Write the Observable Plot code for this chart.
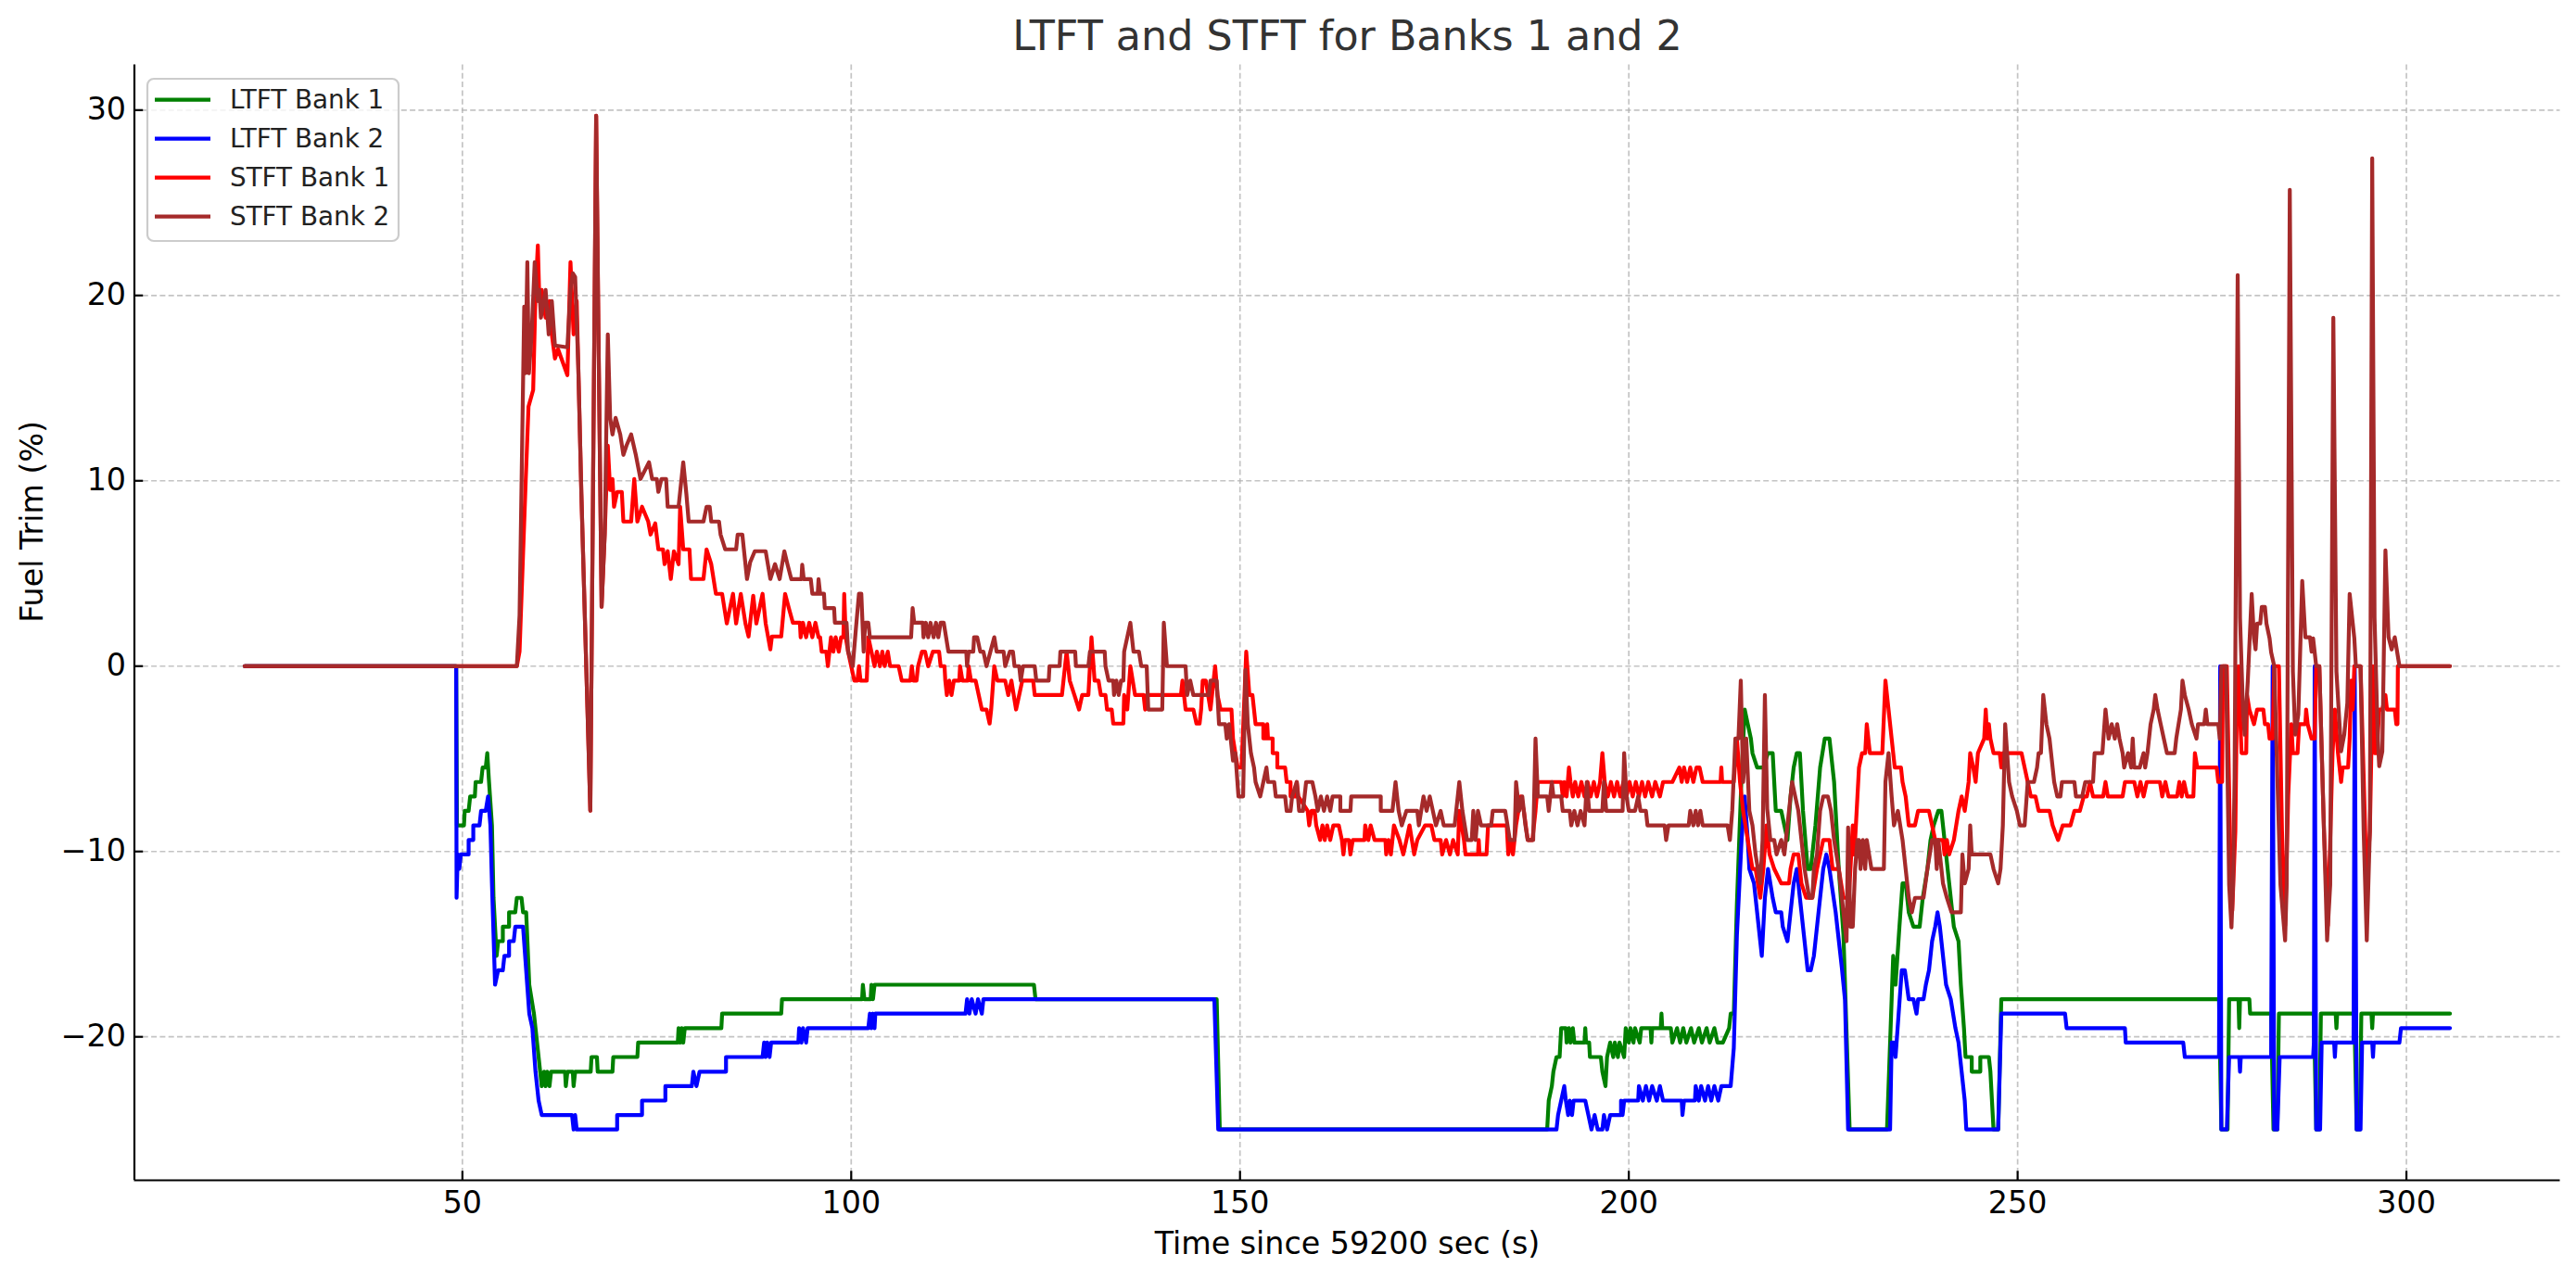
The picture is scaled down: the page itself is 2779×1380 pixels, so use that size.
<!DOCTYPE html>
<html><head><meta charset="utf-8">
<script src="https://cdn.jsdelivr.net/npm/d3@7"></script>
<script src="https://cdn.jsdelivr.net/npm/@observablehq/plot@0.6"></script>
<style>
html,body{margin:0;padding:0;background:#fff;}
#chart{width:2779px;height:1380px;position:relative;overflow:hidden;}
</style></head><body><div id="chart"></div>
<script>
const titleText = "LTFT and STFT for Banks 1 and 2";
const xLabel = "Time since 59200 sec (s)";
const yLabel = "Fuel Trim (%)";
const seriesNames = ["LTFT Bank 1", "LTFT Bank 2", "STFT Bank 1", "STFT Bank 2"];
const seriesColors = ["green", "blue", "red", "brown"];
const xTicks = [50, 100, 150, 200, 250, 300];
const yTicks = [-20, -10, 0, 10, 20, 30];
const xDomain = [7.82, 319.78];
const yDomain = [-27.74, 32.44];

const ltftBank1 = [
[22,0],[49.2,0],[49.3,-8.59],[50.2,-8.59],[50.3,-7.81],[50.8,-7.81],[51.0,-7.03],[51.6,-7.03],[51.7,-6.25],[52.4,-6.25],[52.6,-5.47],[53.0,-5.47],[53.2,-4.69],[53.4,-6.1],[53.8,-8.59],[54.0,-12.5],[54.4,-15.63],[54.6,-14.84],[55.2,-14.84],[55.2,-14.06],[56.0,-14.06],[56.0,-13.28],[56.8,-13.28],[57.0,-12.5],[57.6,-12.5],[57.8,-13.28],[58.2,-13.28],[58.6,-17.19],[59.2,-18.75],[59.8,-21.09],[60.2,-22.66],[60.5,-21.88],[60.7,-22.66],[60.9,-21.88],[61.2,-22.66],[61.4,-21.88],[63.2,-21.88],[63.3,-22.66],[63.5,-21.88],[64.2,-21.88],[64.3,-22.66],[64.5,-21.88],[66.5,-21.88],[66.6,-21.09],[67.3,-21.09],[67.4,-21.88],[69.3,-21.88],[69.4,-21.09],[72.5,-21.09],[72.6,-20.31],[77.7,-20.31],[77.8,-19.53],[78.0,-20.31],[78.2,-19.53],[78.4,-20.31],[78.6,-19.53],[83.3,-19.53],[83.4,-18.75],[91.0,-18.75],[91.1,-17.97],[101.4,-17.97],[101.5,-17.19],[101.7,-17.97],[102.5,-17.97],[102.6,-17.19],[102.8,-17.97],[103.0,-17.19],[123.5,-17.19],[123.7,-17.97],[147.0,-17.97],[147.4,-25],[189.5,-25],[189.7,-23.44],[190.1,-22.66],[190.3,-21.88],[190.7,-21.09],[191.1,-21.09],[191.3,-19.53],[191.9,-19.53],[192.0,-20.31],[192.3,-19.53],[192.5,-20.31],[192.8,-19.53],[193.0,-20.31],[194.3,-20.31],[194.4,-19.53],[194.5,-20.31],[194.9,-20.31],[195.0,-21.09],[196.4,-21.09],[196.6,-21.88],[197.0,-22.66],[197.2,-21.09],[197.6,-20.31],[198.0,-21.09],[198.2,-20.31],[198.6,-21.09],[198.8,-20.31],[199.4,-21.09],[199.6,-19.53],[200.0,-20.31],[200.2,-19.53],[200.6,-20.31],[200.8,-19.53],[201.4,-20.31],[201.6,-19.53],[202.8,-19.53],[202.9,-20.31],[203.0,-19.53],[204.1,-19.53],[204.2,-18.75],[204.3,-19.53],[205.4,-19.53],[205.6,-20.31],[206.2,-19.53],[206.6,-20.31],[207.0,-19.53],[207.4,-20.31],[208.0,-19.53],[208.4,-20.31],[209.0,-19.53],[209.4,-20.31],[210.0,-19.53],[210.4,-20.31],[211.0,-19.53],[211.4,-20.31],[212.1,-20.31],[212.9,-19.53],[213.1,-18.75],[213.5,-18.75],[213.9,-12.8],[214.5,-5.9],[214.9,-2.34],[215.3,-3.13],[215.7,-3.91],[215.9,-4.69],[216.5,-5.47],[217.3,-5.47],[217.9,-4.69],[218.5,-4.69],[218.9,-7.81],[219.6,-7.81],[220.0,-8.59],[220.4,-9.38],[220.8,-7.03],[221.2,-5.47],[221.6,-4.69],[222.0,-4.69],[222.4,-7.81],[223.0,-10.94],[223.4,-10.94],[224.0,-8.59],[224.6,-5.47],[225.2,-3.91],[225.8,-3.91],[226.4,-6.25],[227.0,-10.94],[227.6,-14.5],[228.4,-25],[233.2,-25],[233.8,-17.97],[234.0,-15.63],[234.3,-17.19],[234.8,-14.06],[235.2,-11.72],[235.6,-11.72],[236.0,-13.28],[236.6,-14.06],[237.4,-14.06],[237.8,-12.5],[238.4,-10.94],[238.8,-9.38],[239.2,-8.59],[239.8,-7.81],[240.2,-7.81],[240.6,-9.38],[241.2,-11.72],[241.8,-14.06],[242.4,-14.84],[242.7,-17.19],[243.1,-19.53],[243.3,-21.09],[244.1,-21.09],[244.1,-21.88],[245.2,-21.88],[245.2,-21.09],[246.3,-21.09],[246.5,-21.88],[246.9,-25],[247.5,-25],[247.9,-17.97],[275.9,-17.97],[276.2,-25],[277.0,-25],[277.2,-17.97],[278.4,-17.97],[278.5,-19.53],[278.6,-17.97],[279.8,-17.97],[279.9,-18.75],[282.6,-18.75],[282.9,-25],[283.4,-25],[283.6,-18.75],[288.1,-18.75],[288.4,-25],[288.8,-25],[289.0,-18.75],[290.9,-18.75],[291.0,-19.53],[291.1,-18.75],[293.3,-18.75],[293.6,-25],[294.0,-25],[294.2,-18.75],[295.5,-18.75],[295.6,-19.53],[295.7,-18.75],[305.6,-18.75]
];

const ltftBank2 = [
[22,0],[49.2,0],[49.25,-12.5],[49.4,-10.16],[49.6,-10.94],[49.8,-10.16],[50.8,-10.16],[50.8,-9.38],[51.4,-9.38],[51.4,-8.59],[52.2,-8.59],[52.4,-7.81],[53.0,-7.81],[53.3,-7.03],[53.6,-8.59],[53.8,-11.72],[54.2,-17.19],[54.6,-16.41],[55.2,-16.41],[55.4,-15.63],[56.0,-15.63],[56.0,-14.84],[56.6,-14.84],[56.8,-14.06],[57.8,-14.06],[58.2,-16.41],[58.6,-18.75],[59.0,-19.53],[59.4,-21.88],[59.8,-23.44],[60.2,-24.22],[64.1,-24.22],[64.3,-25],[64.5,-24.22],[64.7,-25],[69.9,-25],[69.9,-24.22],[73.1,-24.22],[73.1,-23.44],[76.1,-23.44],[76.1,-22.66],[79.5,-22.66],[79.7,-21.88],[80.1,-22.66],[80.5,-21.88],[83.9,-21.88],[83.9,-21.09],[88.6,-21.09],[88.8,-20.31],[89.0,-21.09],[89.2,-20.31],[89.5,-21.09],[89.7,-20.31],[93.2,-20.31],[93.3,-19.53],[93.6,-20.31],[93.8,-19.53],[94.2,-20.31],[94.4,-19.53],[102.2,-19.53],[102.4,-18.75],[102.6,-19.53],[102.8,-18.75],[103.0,-19.53],[103.1,-18.75],[114.7,-18.75],[114.9,-17.97],[115.2,-18.75],[115.5,-17.97],[116.0,-18.75],[116.3,-17.97],[116.8,-18.75],[117.0,-17.97],[146.7,-17.97],[147.2,-25],[190.7,-25],[190.9,-24.22],[191.3,-23.44],[191.7,-22.66],[191.9,-23.44],[192.2,-24.22],[192.4,-23.44],[192.7,-24.22],[192.9,-23.44],[194.4,-23.44],[194.8,-24.22],[195.2,-25],[195.6,-24.22],[196.0,-25],[196.6,-25],[196.8,-24.22],[197.2,-25],[197.6,-24.22],[199.0,-24.22],[199.0,-23.44],[199.2,-24.22],[199.4,-23.44],[201.2,-23.44],[201.3,-22.66],[201.8,-23.44],[202.2,-22.66],[202.6,-23.44],[203.0,-22.66],[203.6,-23.44],[204.0,-22.66],[204.4,-23.44],[206.8,-23.44],[206.9,-24.22],[207.1,-23.44],[208.5,-23.44],[208.6,-22.66],[209.0,-23.44],[209.3,-22.66],[209.8,-23.44],[210.2,-22.66],[210.6,-23.44],[211.0,-22.66],[211.5,-23.44],[211.9,-22.66],[213.1,-22.66],[213.5,-20.6],[213.9,-14.5],[214.5,-9.38],[214.9,-7.03],[215.3,-9.38],[215.5,-10.94],[216.1,-11.72],[216.7,-14.06],[217.1,-15.63],[217.5,-12.5],[217.9,-10.94],[218.5,-12.5],[218.9,-13.28],[219.6,-13.28],[219.8,-14.06],[220.4,-14.84],[220.8,-13.28],[221.2,-11.72],[221.6,-10.94],[222.0,-12.5],[222.6,-14.84],[223.0,-16.41],[223.4,-16.41],[223.8,-15.63],[224.4,-13.28],[225.0,-10.94],[225.4,-10.16],[225.8,-10.94],[226.6,-13.28],[227.4,-16.3],[227.8,-18],[228.2,-25],[233.6,-25],[233.8,-20.31],[234.1,-20.31],[234.3,-21.09],[234.7,-18.75],[235.1,-16.41],[235.5,-16.41],[236.0,-17.97],[236.6,-17.97],[237.0,-18.75],[237.2,-17.97],[237.9,-17.97],[238.2,-17.19],[238.6,-16.41],[239.0,-14.84],[239.4,-14.06],[239.7,-13.28],[240.0,-14.06],[240.4,-15.63],[240.8,-17.19],[241.4,-17.97],[242.0,-19.53],[242.4,-20.31],[242.8,-21.88],[243.2,-23.44],[243.4,-25],[247.5,-25],[247.9,-18.75],[256.1,-18.75],[256.3,-19.53],[263.8,-19.53],[263.9,-20.31],[271.3,-20.31],[271.5,-21.09],[275.9,-21.09],[276.05,0],[276.2,-25],[276.9,-25],[277.2,-21.09],[278.5,-21.09],[278.6,-21.88],[278.7,-21.09],[282.6,-21.09],[282.8,0],[283.0,-25],[283.4,-25],[283.7,-21.09],[288.0,-21.09],[288.1,-20.31],[288.2,0],[288.4,-25],[288.9,-25],[289.1,-20.31],[290.7,-20.31],[290.8,-21.09],[290.9,-20.31],[293.2,-20.31],[293.35,0],[293.6,-25],[294.1,-25],[294.3,-20.31],[295.6,-20.31],[295.7,-21.09],[295.8,-20.31],[299.1,-20.31],[299.3,-19.53],[305.6,-19.53]
];

const stftBank1 = [
[22,0],[57.0,0],[57.35,0.8],[58.15,10.1],[58.5,14.0],[59.1,14.9],[59.4,20.1],[59.7,22.7],[59.9,19.7],[60.2,20.3],[60.7,18.8],[61.2,19.7],[61.5,17.9],[61.9,16.6],[62.3,17.1],[62.9,16.4],[63.5,15.7],[63.9,21.8],[64.3,17.9],[64.7,19.7],[64.9,16.2],[65.3,9.3],[66.45,-7.8],[67.2,29.7],[67.5,17.9],[67.9,3.2],[68.3,7.1],[68.7,11.9],[69.0,9.5],[69.3,10.1],[69.5,8.6],[69.9,9.4],[70.5,9.4],[70.7,7.8],[71.7,7.8],[72.1,10.1],[72.5,7.8],[73.1,8.6],[73.9,7.8],[74.2,7.1],[74.8,7.7],[75.2,6.3],[75.8,6.3],[76.0,5.5],[76.4,6.2],[76.8,4.7],[77.2,6.2],[77.8,5.5],[78.0,8.6],[78.4,6.3],[79.2,6.3],[79.4,4.7],[81.0,4.7],[81.4,6.3],[82.0,5.5],[82.6,3.9],[83.4,3.9],[84.0,2.3],[84.8,3.9],[85.2,2.3],[85.8,3.9],[86.4,2.3],[86.8,1.6],[87.4,3.8],[87.8,2.3],[88.6,3.9],[89.0,2.3],[89.6,0.9],[89.8,1.6],[91.0,1.6],[91.5,3.9],[92.0,3.1],[92.5,2.34],[93.4,2.34],[93.5,1.56],[93.8,2.34],[94.2,1.56],[94.6,2.34],[95.0,1.56],[95.4,2.34],[95.8,1.56],[96.0,1.56],[96.2,0.78],[96.8,0.78],[97.0,0],[97.2,0.78],[97.4,1.56],[97.7,0.78],[98.0,1.56],[98.4,0.78],[98.7,1.56],[99.0,1.56],[99.1,3.9],[99.3,1.56],[99.6,0.78],[100.0,0],[100.4,-0.78],[100.8,-0.78],[101.0,0],[101.2,-0.78],[102.0,-0.78],[102.2,1.56],[102.6,0.78],[103.0,0],[103.3,0.78],[103.7,0],[104.0,0.78],[104.3,0],[104.7,0.78],[105.0,0],[106.1,0],[106.5,-0.78],[107.6,-0.78],[107.8,0],[108.0,-0.78],[108.4,-0.78],[108.6,0],[109.1,0.78],[109.5,0.78],[109.9,0],[110.5,0.78],[111.3,0.78],[111.5,0],[112.0,0],[112.1,-0.78],[112.3,-1.56],[112.6,-0.78],[112.9,-1.56],[113.2,-0.78],[113.9,-0.78],[114.0,0],[114.3,-0.78],[115.0,-0.78],[115.1,0],[115.4,-0.78],[116.0,-0.78],[116.4,-1.56],[116.8,-2.34],[117.4,-2.34],[117.8,-3.1],[118.0,-2.34],[118.4,0],[118.8,-0.78],[119.8,-0.78],[120.2,-1.56],[120.6,-0.78],[121.2,-2.34],[121.6,-1.56],[122.0,-0.78],[123.4,-0.78],[123.6,-1.56],[127.1,-1.56],[127.3,-0.78],[127.7,0.78],[128.1,-0.78],[128.7,-1.56],[129.3,-2.34],[129.7,-1.56],[130.5,-1.56],[130.9,1.56],[131.3,-0.78],[131.8,-0.78],[132.1,-1.56],[132.7,-1.56],[132.9,-2.34],[133.5,-2.34],[133.7,-3.1],[135.0,-3.1],[135.1,-1.56],[135.5,-2.34],[135.9,0],[136.5,-1.56],[137.6,-1.56],[137.8,-2.34],[138.0,-1.56],[142.4,-1.56],[142.6,-0.78],[143.0,-2.34],[144.0,-2.34],[144.4,-3.1],[144.8,-3.1],[145.0,-2.34],[145.2,-0.78],[145.6,-0.78],[146.2,-2.34],[146.8,0],[147.1,-1.56],[147.5,-2.34],[148.9,-2.34],[149.1,-3.9],[149.4,-4.69],[149.7,-5.47],[150.2,-5.47],[150.8,0.78],[151.2,-1.56],[151.6,-1.56],[151.8,-2.34],[152.0,-3.13],[153.0,-3.13],[153.0,-3.9],[153.4,-3.9],[153.5,-3.13],[153.6,-3.9],[154.2,-3.9],[154.2,-4.69],[154.8,-4.69],[154.8,-5.47],[155.8,-5.47],[156.0,-6.25],[156.5,-6.25],[156.5,-7.03],[157.2,-7.03],[157.3,-6.25],[157.5,-7.03],[158.7,-7.81],[158.9,-8.59],[159.2,-7.81],[159.6,-7.81],[159.8,-8.59],[160.3,-9.38],[160.6,-8.59],[160.9,-9.38],[161.2,-8.59],[161.6,-9.38],[162.0,-8.59],[162.7,-8.59],[163.1,-9.38],[163.3,-10.16],[163.5,-9.38],[164.0,-9.38],[164.2,-10.16],[164.5,-9.38],[166.0,-9.38],[166.1,-8.59],[166.5,-9.38],[166.8,-8.59],[167.3,-9.38],[168.7,-9.38],[168.8,-10.16],[169.1,-9.38],[169.4,-10.16],[169.8,-8.59],[170.5,-9.38],[171.0,-10.16],[171.4,-9.38],[171.8,-8.59],[172.4,-10.16],[172.8,-9.38],[173.8,-8.59],[174.6,-8.59],[175.0,-9.38],[175.8,-9.38],[176.0,-10.16],[176.5,-9.38],[177.0,-10.16],[177.4,-9.38],[178.0,-10.16],[178.2,-7.81],[178.8,-9.38],[179.0,-10.16],[180.6,-10.16],[180.7,-9.38],[180.8,-10.16],[181.7,-10.16],[181.9,-8.59],[184.3,-8.59],[184.5,-10.16],[184.8,-9.38],[185.1,-10.16],[185.5,-8.59],[186.1,-7.03],[186.5,-7.81],[187.0,-9.38],[187.6,-9.38],[188.0,-7.81],[188.3,-6.25],[191.3,-6.25],[191.5,-7.03],[191.7,-6.25],[192.0,-7.03],[192.3,-5.47],[192.5,-6.25],[192.8,-7.03],[193.1,-6.25],[193.5,-7.03],[193.9,-6.25],[194.3,-7.03],[194.7,-6.25],[195.1,-7.03],[195.5,-6.25],[195.9,-7.03],[196.3,-6.25],[196.6,-4.69],[196.9,-6.25],[197.3,-7.03],[197.7,-6.25],[198.1,-7.03],[198.5,-6.25],[198.9,-7.03],[199.3,-6.25],[199.7,-7.03],[200.1,-6.25],[200.5,-7.03],[200.9,-6.25],[201.3,-7.03],[201.7,-6.25],[202.1,-7.03],[202.5,-6.25],[203.0,-7.03],[203.4,-6.25],[204.0,-7.03],[204.4,-6.25],[205.6,-6.25],[206.5,-5.47],[206.8,-6.25],[207.1,-5.47],[207.5,-6.25],[207.9,-5.47],[208.3,-6.25],[208.7,-5.47],[209.1,-5.47],[209.5,-6.25],[211.8,-6.25],[211.9,-5.47],[212.0,-6.25],[213.5,-6.25],[213.9,-3.91],[214.3,-6.25],[214.7,-7.81],[215.3,-9.38],[215.9,-10.94],[216.3,-10.94],[216.9,-12.5],[217.3,-10.94],[217.7,-8.59],[218.1,-10.16],[218.7,-10.94],[219.6,-11.72],[220.6,-11.72],[220.8,-10.94],[221.2,-10.16],[221.8,-10.16],[222.2,-11.72],[222.8,-12.5],[223.6,-12.5],[224.2,-10.94],[225.0,-9.38],[225.8,-9.38],[226.2,-10.94],[227.0,-10.94],[227.6,-12.5],[228.3,-12.5],[228.6,-10.16],[228.8,-8.59],[229.0,-10.16],[229.4,-7.03],[229.6,-5.47],[230.0,-4.69],[230.4,-4.69],[230.6,-3.13],[231.0,-4.69],[232.6,-4.69],[233.0,-0.78],[233.4,-2.34],[233.8,-3.91],[234.2,-5.47],[235.0,-5.47],[235.2,-6.25],[235.6,-7.03],[236.0,-8.59],[236.8,-8.59],[237.2,-7.81],[238.6,-7.81],[239.0,-8.59],[239.4,-9.38],[240.4,-9.38],[240.6,-10.16],[240.9,-9.38],[241.2,-10.16],[241.8,-9.38],[242.4,-7.81],[242.8,-7.03],[243.2,-7.81],[243.7,-6.25],[243.9,-4.69],[244.3,-5.47],[244.6,-6.25],[244.9,-4.69],[245.7,-3.91],[245.9,-2.34],[246.1,-3.91],[246.3,-3.13],[246.5,-3.91],[246.9,-4.69],[247.7,-4.69],[247.9,-5.47],[248.1,-4.69],[250.5,-4.69],[250.9,-5.47],[251.3,-6.25],[251.7,-7.03],[252.3,-7.03],[252.7,-7.81],[254.1,-7.81],[254.5,-8.59],[255.2,-9.38],[255.8,-8.59],[256.8,-8.59],[257.3,-7.81],[258.0,-7.81],[258.5,-7.03],[258.9,-7.03],[259.3,-6.25],[259.7,-7.03],[261.0,-7.03],[261.3,-6.25],[261.6,-7.03],[263.5,-7.03],[263.8,-6.25],[265.0,-6.25],[265.4,-7.03],[265.8,-6.25],[266.2,-7.03],[266.6,-6.25],[268.3,-6.25],[268.6,-7.03],[269.0,-6.25],[269.4,-7.03],[270.5,-7.03],[270.8,-6.25],[271.1,-7.03],[271.4,-6.25],[271.8,-7.03],[272.6,-7.03],[272.8,-4.69],[273.1,-5.47],[275.6,-5.47],[275.8,-6.25],[276.3,-6.25],[276.4,0],[276.9,0],[277.4,-11.2],[277.6,-13.2],[278.0,-8.9],[278.2,-1.7],[278.4,0],[278.6,-2.6],[278.8,-4.69],[279.4,-4.69],[279.5,-1.56],[279.8,-2.34],[280.4,-3.13],[280.8,-2.34],[281.6,-2.34],[281.8,-3.13],[282.2,-3.13],[282.4,-3.91],[282.8,-3.91],[283.0,0],[283.6,0],[284.0,-8.9],[284.4,-14],[284.8,-7],[285.2,-3.13],[285.4,-4.69],[286.0,-4.69],[286.2,-3.13],[287.0,-3.13],[287.1,-2.34],[287.3,-3.13],[287.8,-3.91],[288.2,-3.91],[288.4,0],[288.8,0],[289.4,-8.9],[289.9,-14],[290.5,-4.69],[290.8,-2.34],[291.2,-4.69],[291.4,-5.47],[291.6,-6.25],[291.8,-5.47],[292.5,-5.47],[292.7,-3.91],[292.9,-0.78],[293.1,-2.34],[293.3,0],[294.1,0],[294.7,-8.9],[294.9,-11.7],[295.3,-8.9],[295.7,0],[295.9,-4.69],[296.2,-4.69],[296.5,-2.34],[296.9,-2.34],[297.3,-1.56],[297.5,-2.34],[298.5,-2.34],[298.7,-3.13],[298.85,-3.13],[298.9,0],[305.6,0]
];

const stftBank2 = [
[22,0],[57.0,0],[57.35,2.75],[57.95,19.4],[58.1,15.8],[58.35,21.8],[58.55,15.8],[58.9,17.9],[59.3,21.8],[59.7,19.7],[59.9,20.3],[60.1,18.8],[60.7,20.3],[61.1,17.9],[61.5,19.7],[61.9,17.3],[63.5,17.2],[63.9,20.3],[64.2,21.2],[64.5,21.0],[64.9,16.2],[65.3,9.3],[66.45,-7.8],[67.2,29.7],[67.5,17.9],[67.9,3.2],[68.3,7.1],[68.7,17.9],[69.0,13.4],[69.3,12.5],[69.7,13.4],[70.3,12.5],[70.7,11.4],[71.1,11.9],[71.7,12.5],[72.3,11.4],[72.9,10.1],[74.0,11.0],[74.4,10.1],[75.0,10.1],[75.2,9.4],[75.6,10.1],[76.2,10.1],[76.4,8.6],[77.8,8.6],[78.4,11.0],[78.8,9.3],[79.1,7.8],[81.0,7.8],[81.4,8.6],[81.8,8.6],[82.0,7.8],[83.0,7.8],[83.2,7.1],[83.8,6.3],[85.2,6.3],[85.4,7.1],[86.0,7.1],[86.2,6.3],[86.6,4.7],[87.0,5.6],[87.6,6.2],[89.0,6.2],[89.6,4.7],[90.2,5.5],[90.8,4.7],[91.4,6.2],[91.8,5.5],[92.3,4.69],[93.6,4.69],[93.7,5.47],[93.9,4.69],[94.8,4.69],[95.0,3.91],[95.7,3.91],[95.8,4.69],[96.0,3.91],[96.5,3.91],[96.6,3.13],[97.8,3.13],[97.9,2.34],[99.4,2.34],[99.6,0.78],[100.2,0],[100.6,2.0],[101.0,3.91],[101.3,3.91],[101.6,0.78],[101.8,2.34],[102.2,2.34],[102.4,1.56],[107.7,1.56],[107.9,3.13],[108.1,2.34],[109.2,2.34],[109.3,1.56],[109.6,2.34],[109.9,1.56],[110.2,2.34],[110.6,1.56],[110.9,2.34],[111.2,1.56],[111.5,2.34],[111.9,2.34],[112.5,0.78],[114.8,0.78],[114.9,0],[115.1,0.78],[115.7,0.78],[115.8,1.56],[116.2,1.56],[116.6,0.78],[117.0,0.78],[117.4,0],[117.9,0.78],[118.4,1.56],[118.7,0.78],[119.6,0.78],[119.8,0],[120.4,0.78],[120.8,0.78],[121.0,0],[121.6,0],[121.8,-0.78],[122.1,0],[123.6,0],[123.8,-0.78],[125.4,-0.78],[125.5,0],[126.8,0],[126.9,0.78],[128.8,0.78],[128.9,0],[130.5,0],[130.7,0.78],[132.6,0.78],[132.7,0],[133.1,-0.78],[133.7,-0.78],[133.8,-1.56],[134.1,-0.78],[134.4,-1.56],[134.7,-0.78],[135.0,-0.78],[135.1,0.78],[135.9,2.34],[136.3,0.78],[137.0,0.78],[137.3,0],[138.0,0],[138.2,-2.34],[140.0,-2.34],[140.2,2.34],[140.6,0],[143.0,0],[143.2,-1.56],[143.6,-0.78],[144.0,-1.56],[146.0,-1.56],[146.2,-0.78],[147.0,-0.78],[147.3,-3.13],[148.1,-3.13],[148.3,-3.91],[148.6,-3.13],[149.1,-5.1],[149.4,-4.69],[149.8,-7.03],[150.4,-7.03],[150.7,-0.2],[151.0,-3.13],[151.4,-4.69],[151.8,-5.47],[152.0,-6.25],[152.6,-7.03],[153.0,-6.25],[153.4,-5.47],[153.6,-6.25],[154.4,-6.25],[154.6,-7.03],[155.8,-7.03],[156.0,-7.81],[156.5,-7.81],[156.7,-7.03],[157.3,-6.25],[157.6,-7.81],[158.1,-7.81],[158.5,-6.25],[159.3,-6.25],[159.7,-7.03],[160.0,-7.81],[160.4,-7.03],[160.8,-7.81],[161.2,-7.03],[161.6,-7.81],[161.9,-7.03],[162.9,-7.03],[162.9,-7.81],[164.2,-7.81],[164.3,-7.03],[168.1,-7.03],[168.1,-7.81],[169.6,-7.81],[170.0,-6.25],[170.4,-7.81],[170.8,-8.59],[171.4,-7.81],[172.8,-7.81],[173.0,-8.59],[173.6,-7.03],[174.0,-7.81],[174.4,-7.03],[174.8,-7.81],[175.2,-8.59],[175.8,-7.81],[176.2,-8.59],[177.6,-8.59],[177.8,-7.81],[178.2,-6.25],[178.6,-7.81],[179.2,-9.38],[179.8,-9.38],[180.0,-7.81],[180.3,-9.38],[180.6,-7.81],[181.0,-8.59],[182.3,-8.59],[182.5,-7.81],[184.1,-7.81],[184.4,-8.59],[184.7,-9.38],[185.3,-9.38],[185.5,-6.25],[185.9,-7.81],[186.3,-7.03],[186.7,-8.59],[187.0,-9.38],[187.7,-9.38],[188.0,-3.91],[188.3,-7.03],[189.5,-7.03],[189.7,-7.81],[189.9,-7.03],[190.1,-6.25],[190.3,-7.03],[191.3,-7.03],[191.5,-7.81],[192.4,-7.81],[192.6,-8.59],[193.0,-7.81],[193.4,-8.59],[193.8,-7.81],[194.3,-8.59],[194.6,-6.25],[194.9,-7.81],[196.6,-7.81],[196.8,-6.25],[197.1,-7.81],[199.2,-7.81],[199.4,-4.69],[199.7,-7.03],[200.0,-7.81],[200.8,-7.81],[201.2,-7.03],[201.5,-7.81],[202.2,-7.81],[202.4,-8.59],[204.6,-8.59],[204.8,-9.38],[205.1,-8.59],[207.7,-8.59],[207.9,-7.81],[208.3,-8.59],[208.6,-7.81],[208.9,-8.59],[209.2,-7.81],[209.5,-8.59],[212.7,-8.59],[213.0,-9.38],[213.3,-7.81],[213.7,-3.91],[214.1,-3.91],[214.4,-0.78],[214.7,-6.25],[215.1,-3.9],[215.5,-7.81],[215.9,-8.59],[216.3,-10.16],[216.9,-11.72],[217.2,-9.38],[217.5,-1.56],[217.8,-7.7],[218.2,-9.38],[218.7,-9.38],[219.0,-10.16],[219.6,-9.38],[220.0,-10.16],[220.4,-8.59],[220.8,-7.03],[221.0,-6.25],[221.4,-7.03],[221.8,-7.81],[222.2,-9.38],[222.6,-10.94],[223.2,-12.5],[223.6,-12.5],[223.8,-10.94],[224.2,-10.16],[224.6,-7.81],[225.0,-7.03],[225.6,-7.03],[226.0,-7.81],[226.4,-9.38],[227.0,-10.94],[227.6,-13.28],[228.0,-14.84],[228.2,-8.7],[228.5,-14.06],[228.8,-14.06],[229.1,-10.94],[229.4,-9.38],[229.6,-9.38],[229.8,-10.94],[230.1,-9.38],[230.4,-10.94],[230.6,-9.38],[231.2,-10.94],[232.8,-10.94],[233.0,-6.25],[233.4,-4.69],[233.8,-7.03],[234.1,-8.59],[234.6,-7.81],[235.2,-9.38],[235.6,-10.94],[236.0,-12.5],[236.4,-13.28],[236.8,-12.5],[237.9,-12.5],[238.4,-10.94],[239.0,-9.38],[239.4,-9.38],[239.6,-10.94],[239.8,-9.38],[240.4,-11.72],[240.9,-12.5],[241.5,-13.28],[242.7,-13.28],[242.9,-10.16],[243.2,-11.72],[243.7,-10.94],[243.9,-8.59],[244.1,-10.16],[246.5,-10.16],[246.9,-10.94],[247.5,-11.72],[247.8,-10.94],[248.1,-8.59],[248.4,-3.13],[248.9,-6.25],[249.3,-7.03],[249.9,-7.81],[250.3,-8.59],[250.9,-8.59],[251.3,-6.25],[252.1,-6.25],[252.5,-5.47],[252.7,-4.69],[253.0,-4.69],[253.3,-1.56],[253.7,-3.13],[254.1,-3.91],[254.3,-4.69],[254.7,-6.25],[255.1,-7.03],[255.5,-7.03],[255.7,-6.25],[257.3,-6.25],[257.5,-7.03],[258.3,-7.03],[258.7,-6.25],[259.7,-6.25],[259.9,-4.69],[260.9,-4.69],[261.3,-2.34],[261.7,-3.91],[262.1,-3.13],[262.5,-3.91],[262.8,-3.13],[263.1,-3.91],[263.5,-4.69],[263.7,-5.47],[264.2,-4.69],[264.6,-5.47],[264.8,-3.91],[265.0,-5.47],[265.7,-5.47],[266.2,-4.69],[266.4,-5.47],[266.7,-4.69],[267.1,-3.13],[267.5,-2.34],[267.7,-1.56],[268.0,-2.34],[268.4,-3.13],[268.8,-3.91],[269.2,-4.69],[270.2,-4.69],[270.4,-3.91],[271.0,-2.34],[271.2,-0.78],[271.5,-1.56],[272.0,-2.34],[272.4,-3.13],[273.0,-3.91],[273.2,-3.13],[274.0,-3.13],[274.2,-2.34],[274.4,-3.13],[275.8,-3.13],[276.0,-3.91],[276.2,0],[276.8,0],[277.0,-6.0],[277.2,-11.8],[277.5,-14.1],[277.7,-11.8],[277.9,-6],[278.3,21.1],[278.6,2.6],[279.0,-2.6],[279.2,-3.7],[279.6,-0.8],[280.1,3.9],[280.4,1.5],[280.6,0.9],[280.8,2.3],[281.2,2.3],[281.4,3.2],[281.8,3.2],[282.0,2.3],[282.4,1.5],[282.6,0.75],[283.0,0],[283.4,-6],[283.8,-11.8],[284.4,-14.8],[284.6,-11.8],[285.0,25.7],[285.4,-0.3],[285.7,-3.7],[286.1,-2.6],[286.6,4.6],[287.0,1.56],[287.6,1.56],[287.8,0.78],[288.0,1.5],[288.4,0],[288.8,0],[289.2,-6],[289.6,-11.8],[289.8,-14.8],[290.2,-11.8],[290.6,18.8],[291.0,-0.3],[291.6,-4.6],[292.0,-3.7],[292.4,-2.0],[292.7,3.9],[293.1,2.3],[293.3,1.5],[293.5,0],[294.1,0],[294.5,-8.9],[294.9,-14.8],[295.3,-8.9],[295.6,27.4],[295.9,2.6],[296.3,-3.7],[296.5,-5.4],[296.9,-4.6],[297.3,6.25],[297.7,1.56],[298.1,0.9],[298.5,1.56],[298.8,0.78],[299.1,0],[305.6,0]
];

const seriesData = [ltftBank1, ltftBank2, stftBank1, stftBank2];
const rows = [];
seriesNames.forEach((name, i) => {
  seriesData[i].forEach(([t, v]) => rows.push({series: name, t, v}));
});

const fmt = d3.format("d");
const gridStyle = {stroke: "#b0b0b0", strokeOpacity: 0.75, strokeWidth: 1.7, strokeDasharray: "6,3.3"};

const plot = Plot.plot({
  width: 2779,
  height: 1380,
  marginLeft: 144.5,
  marginRight: 17.5,
  marginTop: 69.5,
  marginBottom: 107,
  style: {fontFamily: "'DejaVu Sans', sans-serif", fontSize: "33px", color: "#000", background: "#fff", overflow: "visible"},
  x: {domain: xDomain, label: null},
  y: {domain: yDomain, label: null},
  color: {domain: seriesNames, range: seriesColors},
  marks: [
    Plot.gridX(xTicks, gridStyle),
    Plot.gridY(yTicks, gridStyle),
    Plot.line(rows, {x: "t", y: "v", z: "series", stroke: "series", strokeWidth: 4.2, strokeLinejoin: "round", curve: "linear"}),
    Plot.ruleX([xDomain[0]], {stroke: "#000", strokeWidth: 2.2}),
    Plot.ruleY([yDomain[0]], {stroke: "#000", strokeWidth: 2.2}),
    Plot.axisX(xTicks, {anchor: "bottom", tickSize: 9.7, dy: -9.7, strokeWidth: 2.2, tickFormat: () => "", label: null}),
    Plot.axisY(yTicks, {anchor: "left", tickSize: 9.7, dx: 9.7, strokeWidth: 2.2, tickFormat: () => "", label: null}),
    Plot.axisX(xTicks, {anchor: "bottom", tickSize: 0, tickPadding: 12, tickFormat: fmt, fontSize: 33.3, fill: "#000", label: null}),
    Plot.axisY(yTicks, {anchor: "left", tickSize: 0, tickPadding: 9, tickFormat: fmt, fontSize: 33.3, fill: "#000", label: null}),
    Plot.text([titleText], {text: d => d, frameAnchor: "top", dy: -16, lineAnchor: "bottom", fontSize: 44.4, fill: "#333"}),
    Plot.text([xLabel], {text: d => d, frameAnchor: "bottom", dy: 79, lineAnchor: "bottom", fontSize: 33.3, fill: "#000"}),
    Plot.text([yLabel], {text: d => d, frameAnchor: "left", rotate: -90, dx: -99, lineAnchor: "bottom", fontSize: 33.3, fill: "#000"})
  ]
});

// legend (matplotlib-style box, upper left)
const svg = d3.select(plot);
const lg = svg.append("g").attr("font-family", "'DejaVu Sans', sans-serif").attr("text-anchor", "start");
lg.append("rect").attr("x", 159).attr("y", 85).attr("width", 271).attr("height", 175)
  .attr("rx", 7).attr("fill", "#fff").attr("fill-opacity", 0.8)
  .attr("stroke", "#cccccc").attr("stroke-width", 2.2);
seriesNames.forEach((name, i) => {
  const yb = 117.3 + 42 * i;
  lg.append("line").attr("x1", 167).attr("x2", 227).attr("y1", yb - 9.6).attr("y2", yb - 9.6)
    .attr("stroke", seriesColors[i]).attr("stroke-width", 4.2);
  lg.append("text").attr("x", 248).attr("y", yb).attr("font-size", 27.8)
    .attr("text-anchor", "start").attr("fill", "#222").text(name);
});

document.getElementById("chart").appendChild(plot);
</script>
</body></html>
